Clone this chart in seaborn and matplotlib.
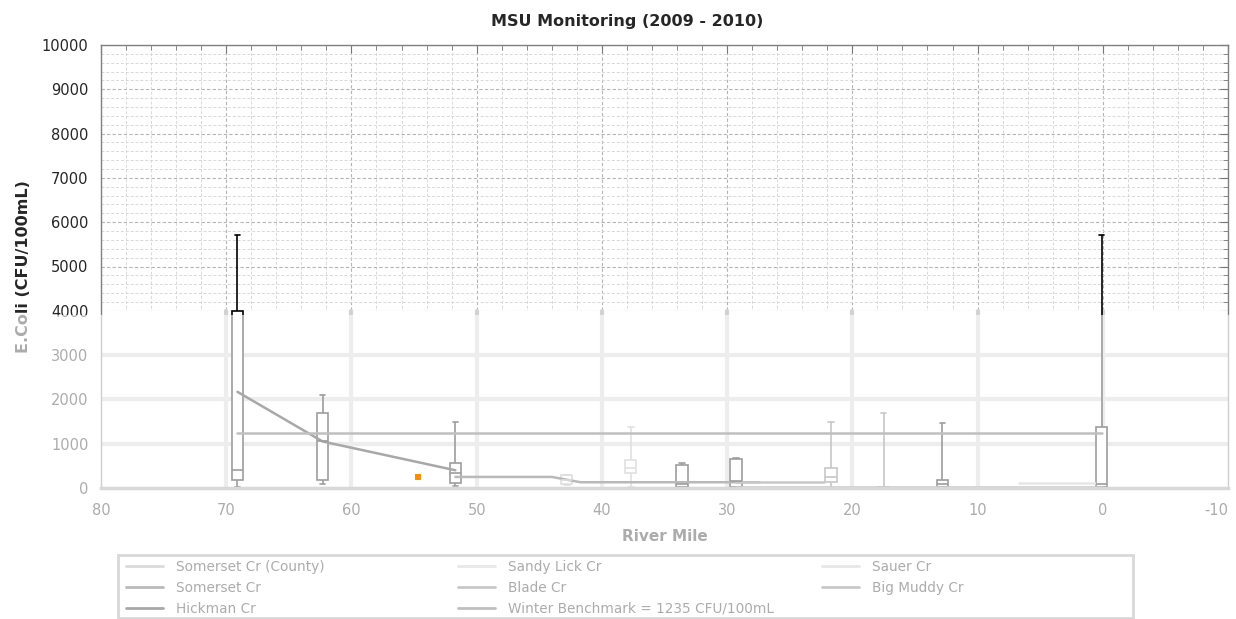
import numpy as np
import pandas as pd
import matplotlib
matplotlib.use("Agg")
import matplotlib.pyplot as plt
from matplotlib.patches import Rectangle
from matplotlib.lines import Line2D
from matplotlib.ticker import MultipleLocator
import seaborn as sns

# box plot per sampling station (river mile)
station_mile = [69.1, 62.3, 51.7, 42.8, 37.7, 33.6, 29.3, 21.7, 17.5, 12.8, 0.1]
station_creek = ["Hickman Cr", "Hickman Cr", "Somerset Cr", "Somerset Cr (County)", "Sandy Lick Cr",
                 "Somerset Cr", "Big Muddy Cr", "Blade Cr", "Sauer Cr", "Big Muddy Cr", "Big Muddy Cr"]
station_min = [30, 80, 50, 70, 20, 0, 0, 0, 0, 0, 0]
station_q1 = [180, 180, 110, 80, 340, 20, 20, 130, 10, 20, 20]
station_med = [400, 1050, 330, 180, 450, 100, 150, 250, 20, 100, 100]
station_q3 = [4000, 1690, 560, 290, 630, 520, 650, 450, 30, 180, 1380]
station_max = [5700, 2100, 1490, 300, 1380, 560, 680, 1490, 1690, 1470, 5700]

# connecting lines
hickman_mile = [69.1, 62.3, 51.7]
hickman_val = [2170, 1050, 400]
somerset_mile = [51.7, 44.0, 41.7, 27.4]
somerset_val = [250, 250, 130, 130]
blade_mile = [29.3, 22.3]
blade_val = [130, 130]
muddy_mile = [29.3, 12.8, 0.1]
muddy_val = [20, 20, 20]
sauer_mile = [6.7, 0.6]
sauer_val = [110, 110]
benchmark_mile = [69.1, 0.1]
benchmark_val = [1235, 1235]

# single extra sample (orange)
extra_mile = [54.7]
extra_val = [250]

legend_cols = [
    ["Somerset Cr (County)", "Somerset Cr", "Hickman Cr"],
    ["Sandy Lick Cr", "Blade Cr", "Winter Benchmark = 1235 CFU/100mL"],
    ["Sauer Cr", "Big Muddy Cr"],
]

palette = {
    "Somerset Cr (County)": "#a0a0a0",
    "Somerset Cr": "#4a4a4a",
    "Hickman Cr": "#1c1c1c",
    "Sandy Lick Cr": "#c4c4c4",
    "Blade Cr": "#707070",
    "Winter Benchmark = 1235 CFU/100mL": "#5a5a5a",
    "Sauer Cr": "#c0c0c0",
    "Big Muddy Cr": "#707070",
}
box_edge = {
    "Hickman Cr": "black", "Somerset Cr": "black", "Somerset Cr (County)": "#a8a8a8",
    "Sandy Lick Cr": "#b0b0b0", "Big Muddy Cr": "black", "Blade Cr": "#6e6e6e",
    "Sauer Cr": "#6e6e6e",
}

lines = pd.concat([
    pd.DataFrame({"mile": hickman_mile, "value": hickman_val, "series": "Hickman Cr"}),
    pd.DataFrame({"mile": somerset_mile, "value": somerset_val, "series": "Somerset Cr"}),
    pd.DataFrame({"mile": blade_mile, "value": blade_val, "series": "Blade Cr"}),
    pd.DataFrame({"mile": muddy_mile, "value": muddy_val, "series": "Big Muddy Cr"}),
    pd.DataFrame({"mile": sauer_mile, "value": sauer_val, "series": "Sauer Cr"}),
    pd.DataFrame({"mile": benchmark_mile, "value": benchmark_val,
                  "series": "Winter Benchmark = 1235 CFU/100mL"}),
], ignore_index=True)

sns.set_style("white")
plt.rcParams["font.family"] = ["DejaVu Sans"]
plt.rcParams["axes.unicode_minus"] = False

fig = plt.figure(figsize=(12.36, 6.19), dpi=100)
ax = fig.add_axes([101 / 1236, 1 - 488 / 619, 1127 / 1236, 443 / 619])
ax.set_axisbelow(True)

# grid: dashed in the upper part, plain wide lines under 4000
ax.xaxis.set_major_locator(MultipleLocator(10))
ax.xaxis.set_minor_locator(MultipleLocator(2))
ax.yaxis.set_major_locator(MultipleLocator(1000))
ax.yaxis.set_minor_locator(MultipleLocator(200))
ax.grid(which="major", color="#b4b4b4", linestyle=(0, (3, 2)), linewidth=0.8)
ax.grid(which="minor", color="#d8d8d8", linestyle=(0, (3, 2)), linewidth=0.7)
ax.axhspan(0, 4000, color="white", lw=0, zorder=0.6)
for yv in [1000, 2000, 3000]:
    ax.axhline(yv, color="#d2d2d2", lw=3, zorder=0.7)
for xv in range(70, -10, -10):
    ax.axvline(xv, 0, 0.4, color="#d2d2d2", lw=3, zorder=0.7)

# box plots, one per station
for i, m in enumerate(station_mile):
    vals = [station_min[i], station_q1[i], station_med[i], station_q3[i], station_max[i]]
    sns.boxplot(x=[m] * 5, y=vals, native_scale=True, orient="x", width=0.9,
                whis=(0, 100), color="white", linecolor=box_edge[station_creek[i]],
                linewidth=1.2, saturation=1, ax=ax)

sns.lineplot(data=lines, x="mile", y="value", hue="series", palette=palette,
             estimator=None, sort=False, linewidth=1.8, legend=False, ax=ax)

ax.set_xlim(80, -10)
ax.set_ylim(0, 10000)
ax.set_xlabel("River Mile", fontsize=11, fontweight="bold", labelpad=8)
ax.set_ylabel("E.Coli (CFU/100mL)", fontsize=11.5, fontweight="bold", labelpad=8)
ax.set_title("MSU Monitoring (2009 - 2010)", fontsize=11.5, fontweight="bold",
             pad=14, x=0.467)

ax.tick_params(which="both", direction="in", top=True, right=True, color="#777777")
ax.tick_params(which="major", length=6, labelsize=10.5)
ax.tick_params(which="minor", length=3.5)
ax.tick_params(axis="x", pad=11)
ax.tick_params(axis="y", pad=9)
for side in ["left", "top", "right"]:
    ax.spines[side].set_color("#808080")
    ax.spines[side].set_linewidth(1)
ax.spines["bottom"].set_color("#9a9a9a")
ax.spines["bottom"].set_linewidth(2.5)

# legend: frame plus three columns at their own x positions
fig.add_artist(Rectangle((118 / 1236, 1 / 619), 1015 / 1236, 63 / 619,
                         transform=fig.transFigure, facecolor="white",
                         edgecolor="#9a9a9a", lw=2, zorder=4))
col_x = [126, 458, 822]
for names, cx in zip(legend_cols, col_x):
    handles = [Line2D([], [], color=palette[name], lw=2) for name in names]
    leg = fig.legend(handles, names, loc="upper left",
                     bbox_to_anchor=(cx / 1236, 1 - 560 / 619),
                     bbox_transform=fig.transFigure, borderaxespad=0, borderpad=0,
                     fontsize=9.8, frameon=False, handlelength=2.7,
                     handletextpad=1.0, labelspacing=0.5)
    leg.set_zorder(5)

# washed-out lower part of the picture
fig.add_artist(Rectangle((0, 0), 1, 1 - 315 / 619, transform=fig.transFigure,
                         facecolor="white", alpha=0.62, lw=0, zorder=10))

# orange sample sits above the wash
ax_top = fig.add_axes(ax.get_position(), sharex=ax, sharey=ax, zorder=11)
ax_top.set_axis_off()
sns.scatterplot(x=extra_mile, y=extra_val, color="#ff8c00", marker="s", s=14,
                linewidth=0, ax=ax_top)
ax_top.set_xlim(80, -10)
ax_top.set_ylim(0, 10000)

# keep the last x label inside the picture
fig.canvas.draw()
for tick in ax.xaxis.get_major_ticks():
    if tick.label1.get_text() == "-10":
        tick.label1.set_horizontalalignment("right")

fig.savefig("out.png", dpi=100)
